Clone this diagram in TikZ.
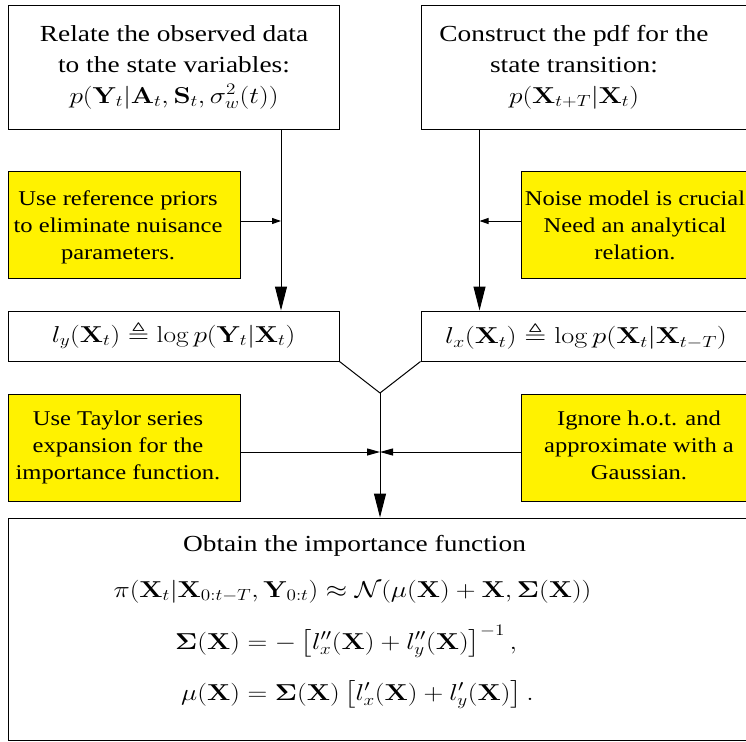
\RequirePackage{fix-cm}
\documentclass[tikz,border=0pt]{standalone}
\usepackage{amsmath,amssymb}
\usepackage{graphicx}
\usepackage[no-math]{fontspec}
\setmainfont{Liberation Serif}
\usetikzlibrary{arrows.meta}

\newcommand{\wtext}[1]{\scalebox{1.19}[1]{\begin{tabular}{@{}c@{}}#1\end{tabular}}}
\newcommand{\ytext}[1]{\scalebox{1.17}[1]{\begin{tabular}{@{}c@{}}#1\end{tabular}}}

\begin{document}
\begin{tikzpicture}[x=1pt, y=-1pt, line width=1pt,
  box/.style={draw, fill=white, inner sep=0pt},
  note/.style={box, fill=yellow, minimum width=232pt, minimum height=107pt},
  words/.style={inner sep=0pt, font=\fontsize{23}{31}\selectfont},
  notewords/.style={inner sep=0pt, font=\fontsize{21}{27}\selectfont},
  big arrow/.style={-{Triangle[length=24pt, width=12pt]}},
  side arrow/.style={-{Triangle[length=9pt, width=6pt]}},
  low arrow/.style={-{Triangle[length=13pt, width=7pt]}}]
  \useasboundingbox (0,0) rectangle (746,741);
  \clip (0,0) rectangle (746,741);

  \node[box, minimum width=331pt, minimum height=123pt] (obsv) at (173.5,67.5) {};
  \node[words] (obsvtxt) at (174,66) {\wtext{Relate the observed data\\to the state variables:\\$p(\mathbf{Y}_t|\mathbf{A}_t,\mathbf{S}_t,\sigma_w^2(t))$}};
  \node[box, minimum width=369pt, minimum height=123pt] (trans) at (605.5,67.5) {};
  \node[words] (transtxt) at (574,66) {\wtext{Construct the pdf for the\\state transition:\\$p(\mathbf{X}_{t+T}|\mathbf{X}_t)$}};

  \node[note] (refp) at (124,224.5) {};
  \node[notewords] (refptxt) at (118,227.5) {\ytext{Use reference priors\\to eliminate nuisance\\parameters.}};
  \node[note, minimum width=229pt] (noise) at (635.5,224.5) {};
  \node[notewords] (noisetxt) at (635,227.5) {\ytext{Noise model is crucial\\Need an analytical\\relation.}};

  \node[box, minimum width=331pt, minimum height=50pt, words] (ly) at (173.5,336) {\wtext{$l_y(\mathbf{X}_t) \triangleq \log p(\mathbf{Y}_t|\mathbf{X}_t)$}};
  \node[box, minimum width=330pt, minimum height=50pt, words] (lx) at (586,336) {\scalebox{1.23}[1]{$l_x(\mathbf{X}_t) \triangleq \log p(\mathbf{X}_t|\mathbf{X}_{t-T})$}};

  \node[note] (taylor) at (124,447.5) {};
  \node[notewords] (taylortxt) at (118,447) {\ytext{Use Taylor series\\expansion for the\\importance function.}};
  \node[note, minimum width=236pt] (gauss) at (639,447.5) {};
  \node[notewords] (gausstxt) at (639,447) {\ytext{Ignore h.o.t. and\\approximate with a\\Gaussian.}};

  \node[box, minimum width=782pt, minimum height=222pt] (imp) at (399,629) {};
  \node[words, anchor=base] (imptxt) at (354.5,551) {\scalebox{1.19}[1]{Obtain the importance function}};
  \node[words, anchor=base] (pieq) at (352.5,597) {\scalebox{1.19}[1]{$\pi(\mathbf{X}_t|\mathbf{X}_{0:t-T},\mathbf{Y}_{0:t}) \approx \mathcal{N}(\mu(\mathbf{X})+\mathbf{X},\mathbf{\Sigma}(\mathbf{X}))$}};
  \node[words, anchor=base] (sigmu) at (354.5,649) {\scalebox{1.19}[1]{$\displaystyle\begin{array}[t]{r@{}l}
    \mathbf{\Sigma}(\mathbf{X}) & {}= -\left[l''_x(\mathbf{X})+l''_y(\mathbf{X})\right]^{-1},\\[20pt]
    \mu(\mathbf{X}) & {}= \mathbf{\Sigma}(\mathbf{X})\left[l'_x(\mathbf{X})+l'_y(\mathbf{X})\right].
  \end{array}$}};

  \coordinate (lj) at (281,0);
  \coordinate (rj) at (479.5,0);
  \coordinate (join) at (380,393);

  \draw[big arrow] (obsv.south -| lj) to (ly.north -| lj);
  \draw[big arrow] (trans.south -| rj) to (lx.north -| rj);
  \draw[side arrow] ([yshift=3.5pt]refp.east) to ([yshift=3.5pt]refp.east -| lj);
  \draw[side arrow] ([yshift=3.5pt]noise.west) to ([yshift=3.5pt]noise.west -| rj);
  \draw (ly.south east) to (join);
  \draw (lx.south west) to (join);
  \draw[big arrow] (join) to (join |- imp.north);
  \draw[low arrow] ([yshift=-4.5pt]taylor.east) to ([yshift=-4.5pt]taylor.east -| join);
  \draw[low arrow] ([yshift=-4.5pt]gauss.west) to ([yshift=-4.5pt]gauss.west -| join);
\end{tikzpicture}
\end{document}
